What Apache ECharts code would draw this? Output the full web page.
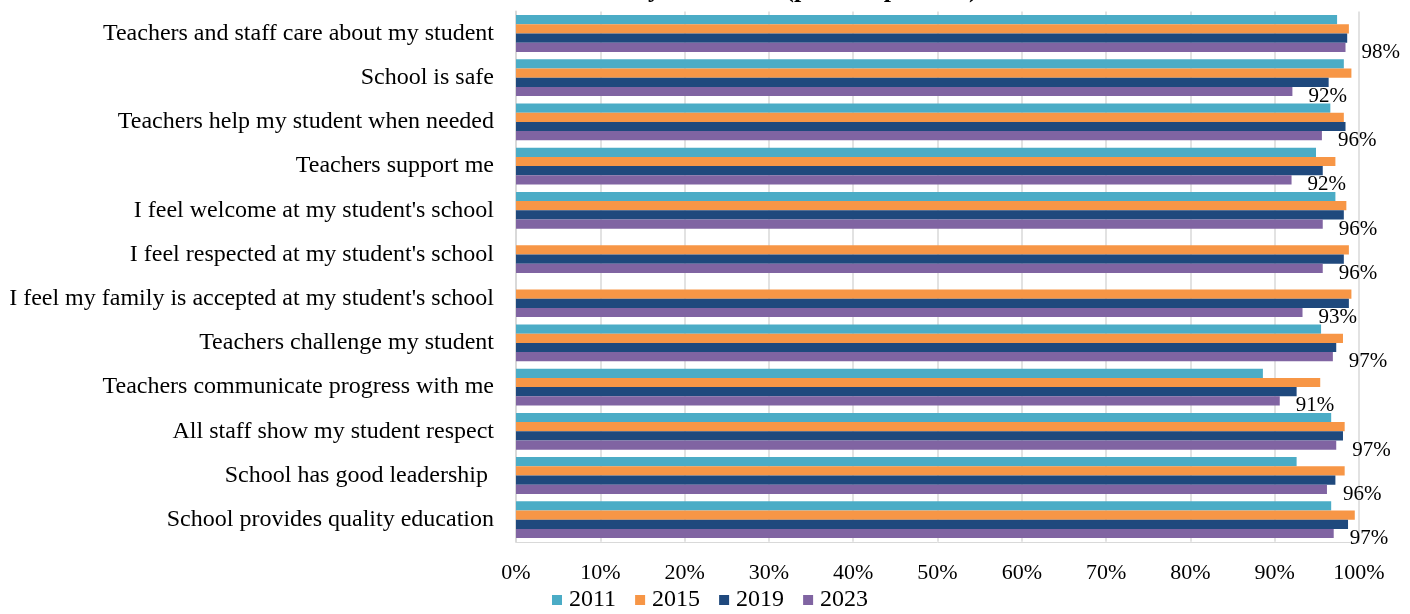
<!DOCTYPE html>
<html>
<head>
<meta charset="utf-8">
<script src="https://cdn.jsdelivr.net/npm/echarts@6/dist/echarts.min.js"></script>
<style>
html,body{margin:0;padding:0;background:#fff;}
#chart{width:1410px;height:614px;}
</style>
</head>
<body>
<div id="chart"></div>
<script>
const titleText = 'Parent Survey Outcomes (percent positive)';
const categories = [
  'Teachers and staff care about my student',
  'School is safe',
  'Teachers help my student when needed',
  'Teachers support me',
  "I feel welcome at my student's school",
  "I feel respected at my student's school",
  "I feel my family is accepted at my student's school",
  'Teachers challenge my student',
  'Teachers communicate progress with me',
  'All staff show my student respect',
  'School has good leadership ',
  'School provides quality education'
];
const seriesNames = ['2011', '2015', '2019', '2023'];
const values2011 = [97.4, 98.2, 96.6, 94.9, 97.2, null, null, 95.5, 88.6, 96.7, 92.6, 96.7];
const values2015 = [98.8, 99.1, 98.2, 97.2, 98.5, 98.8, 99.1, 98.1, 95.4, 98.3, 98.3, 99.5];
const values2019 = [98.6, 96.4, 98.4, 95.7, 98.2, 98.2, 98.8, 97.3, 92.6, 98.1, 97.2, 98.7];
const values2023 = [98.4, 92.1, 95.6, 92.0, 95.7, 95.7, 93.3, 96.9, 90.6, 97.3, 96.2, 97.0];
const xTicks = [0, 10, 20, 30, 40, 50, 60, 70, 80, 90, 100];
const colors = ['#4bacc6', '#f79646', '#1f497d', '#8064a2'];

const FONT = '"Liberation Serif", "Times New Roman", serif';
const allValues = [values2011, values2015, values2019, values2023];

const series = seriesNames.map((name, i) => {
  const s = {
    name: name,
    type: 'bar',
    data: allValues[i],
    barWidth: 9.2,
    barGap: '0%',
    itemStyle: { color: colors[i] },
    emphasis: { disabled: true }
  };
  if (i === 3) {
    s.label = {
      show: true,
      position: 'right',
      distance: 16,
      offset: [0, 5],
      color: '#000',
      fontFamily: FONT,
      fontSize: 21,
      formatter: p => Math.round(p.value) + '%'
    };
  }
  return s;
});

const chart = echarts.init(document.getElementById('chart'), null, { renderer: 'canvas' });
chart.setOption({
  animation: false,
  color: colors,
  title: {
    text: titleText,
    left: 497,
    top: -28,
    textStyle: { fontFamily: FONT, fontSize: 26, fontWeight: 'bold', color: '#000' }
  },
  grid: { left: 516, right: 51, top: 11.4, bottom: 72.2, containLabel: false },
  legend: {
    data: seriesNames,
    left: 552,
    top: 588,
    icon: 'rect',
    itemWidth: 10,
    itemHeight: 10,
    itemGap: 19,
    padding: 0,
    textStyle: { fontFamily: FONT, fontSize: 24, color: '#000', padding: [0, 0, 0, 2] }
  },
  xAxis: {
    type: 'value',
    min: xTicks[0],
    max: xTicks[xTicks.length - 1],
    interval: xTicks[1] - xTicks[0],
    axisLine: { show: true, lineStyle: { color: '#d9d9d9', width: 1 } },
    axisTick: { show: false },
    splitLine: { show: true, lineStyle: { color: '#d9d9d9', width: 1.5 } },
    axisLabel: {
      formatter: '{value}%',
      fontFamily: FONT,
      fontSize: 22,
      color: '#000',
      margin: 20
    }
  },
  yAxis: {
    type: 'category',
    data: categories,
    inverse: true,
    axisLine: { show: true, lineStyle: { color: '#d9d9d9', width: 2 } },
    axisTick: { show: false },
    axisLabel: {
      fontFamily: FONT,
      fontSize: 24,
      color: '#000',
      margin: 22
    }
  },
  series: series
});
</script>
</body>
</html>
